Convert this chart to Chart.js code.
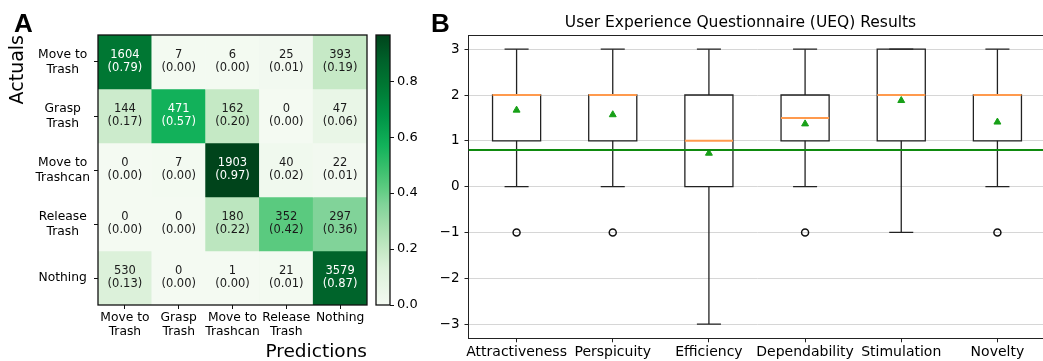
<!DOCTYPE html>
<html><head><meta charset="utf-8">
<script src="https://cdn.jsdelivr.net/npm/chart.js@4.4.1/dist/chart.umd.min.js"></script>
<style>
html,body{margin:0;padding:0;background:#fff;overflow:hidden;}
#wrap{position:relative;width:1043px;height:361px;overflow:hidden;background:#fff;}
canvas{position:absolute;top:0;}
.panel{position:absolute;top:10px;font:bold 26px 'Liberation Sans',Arial,sans-serif;line-height:26px;color:#000;z-index:3;}
</style></head><body>
<div id="wrap">
<canvas id="cm" width="372" height="361" style="left:0"></canvas>
<canvas id="cb" width="70" height="361" style="left:360px"></canvas>
<canvas id="box" width="621" height="361" style="left:430px"></canvas>
<div class="panel" style="left:14px">A</div>
<div class="panel" style="left:431px">B</div>
</div>
<script>
// ---------- Panel A data: confusion matrix ----------
const classLabels = ['Move to Trash', 'Grasp Trash', 'Move to Trashcan', 'Release Trash', 'Nothing'];
const confusionCounts = [
  [1604, 7, 6, 25, 393],
  [144, 471, 162, 0, 47],
  [0, 7, 1903, 40, 22],
  [0, 0, 180, 352, 297],
  [530, 0, 1, 21, 3579]
];
const colorbarTicks = [0, 0.2, 0.4, 0.6, 0.8];

// ---------- Panel B data: UEQ box plot ----------
const ueqTitle = 'User Experience Questionnaire (UEQ) Results';
const ueqCategories = ['Attractiveness', 'Perspicuity', 'Efficiency', 'Dependability', 'Stimulation', 'Novelty'];
const ueqWhiskerLow = [0, 0, -3, 0, -1, 0];
const ueqQ1 = [1, 1, 0, 1, 1, 1];
const ueqMedian = [2, 2, 1, 1.5, 2, 2];
const ueqQ3 = [2, 2, 2, 2, 3, 2];
const ueqWhiskerHigh = [3, 3, 3, 3, 3, 3];
const ueqMean = [1.67, 1.57, 0.73, 1.37, 1.88, 1.41];
const ueqOutliers = [[-1], [-1], [], [-1], [], [-1]];
const ueqYTicks = [-3, -2, -1, 0, 1, 2, 3];
const ueqBenchmark = 0.8;

Chart.defaults.font.family = "'DejaVu Sans', sans-serif";
Chart.defaults.color = '#000';

// ---------- helpers ----------
const nRows = classLabels.length;
const rowSums = confusionCounts.map(r => r.reduce((a, b) => a + b, 0));
const normalized = confusionCounts.map((r, i) => r.map(v => v / rowSums[i]));
const cbMax = Math.max(...normalized.flat());

const cmapStops = [
  [0.00, [244, 250, 242]], [0.135, [220, 241, 218]], [0.20, [198, 233, 198]],
  [0.30, [160, 220, 170]], [0.375, [127, 211, 152]], [0.435, [92, 203, 128]],
  [0.50, [60, 192, 110]], [0.59, [18, 178, 90]], [0.70, [0, 148, 70]],
  [0.82, [0, 118, 50]], [0.90, [0, 99, 43]], [1.00, [0, 68, 27]]
];
function cmap(t) {
  t = Math.max(0, Math.min(1, t));
  for (let k = 1; k < cmapStops.length; k++) {
    const [t1, c1] = cmapStops[k];
    if (t <= t1) {
      const [t0, c0] = cmapStops[k - 1];
      const f = (t - t0) / (t1 - t0);
      const c = c0.map((v, j) => Math.round(v + (c1[j] - v) * f));
      return `rgb(${c[0]},${c[1]},${c[2]})`;
    }
  }
  const c = cmapStops[cmapStops.length - 1][1];
  return `rgb(${c[0]},${c[1]},${c[2]})`;
}
function splitLabel(s) {
  const k = s.lastIndexOf(' ');
  return k < 0 ? s : [s.slice(0, k), s.slice(k + 1)];
}

const frame = {
  id: 'frame',
  afterDatasetsDraw(chart) {
    const a = chart.chartArea, c = chart.ctx;
    c.save(); c.strokeStyle = '#111'; c.lineWidth = 1.3;
    c.strokeRect(a.left, a.top, a.right - a.left, a.bottom - a.top);
    c.restore();
  }
};
const cellText = {
  id: 'cellText',
  afterDatasetsDraw(chart) {
    const c = chart.ctx;
    c.save();
    c.font = "11.5px 'DejaVu Sans'"; c.textAlign = 'center'; c.textBaseline = 'middle';
    chart.data.datasets.forEach((ds, i) => {
      chart.getDatasetMeta(i).data.forEach((el, j) => {
        const cx = el.x, cy = (el.y + el.base) / 2;
        const r = normalized[i][j];
        c.fillStyle = r > 0.5 ? '#ffffff' : '#1a1a1a';
        c.fillText(String(confusionCounts[i][j]), cx, cy - 6.5);
        c.fillText('(' + r.toFixed(2) + ')', cx, cy + 6.5);
      });
    });
    c.restore();
  }
};

// ---------- Panel A: heatmap ----------
new Chart(document.getElementById('cm'), {
  type: 'bar',
  data: {
    labels: classLabels,
    datasets: confusionCounts.map((row, i) => ({
      data: row.map(() => [nRows - 1 - i, nRows - i]),
      backgroundColor: normalized[i].map(v => cmap(v / cbMax)),
      borderWidth: 0, barPercentage: 1, categoryPercentage: 1, grouped: false
    }))
  },
  options: {
    responsive: false, animation: false, events: [],
    layout: { padding: { top: 35, right: 5, left: 0, bottom: 0 } },
    plugins: { legend: { display: false }, tooltip: { enabled: false } },
    scales: {
      x: {
        type: 'category', offset: true,
        grid: { display: true, drawOnChartArea: false, drawTicks: true, tickLength: 4, tickColor: '#111', offset: false },
        border: { display: false },
        ticks: { font: { size: 12.3 }, color: '#000', padding: 1, maxRotation: 0, autoSkip: false,
                 callback: (v, i) => splitLabel(classLabels[i]) },
        title: { display: true, text: 'Predictions', align: 'end', color: '#000',
                 font: { size: 18.5, lineHeight: 1 }, padding: { top: 0, bottom: 0 } },
        afterFit: s => { s.height = 56; }
      },
      y: {
        type: 'linear', min: 0, max: nRows,
        afterBuildTicks: s => { s.ticks = classLabels.map((_, i) => ({ value: nRows - 0.5 - i })); },
        grid: { display: true, drawOnChartArea: false, drawTicks: true, tickLength: 4, tickColor: '#111' },
        border: { display: false },
        ticks: { font: { size: 12.3 }, color: '#000', padding: 4, crossAlign: 'center', autoSkip: false,
                 callback: v => splitLabel(classLabels[Math.round(nRows - 0.5 - v)]) },
        title: { display: true, text: 'Actuals', align: 'end', color: '#000',
                 font: { size: 19, lineHeight: 1 }, padding: { top: 9, bottom: 0 } },
        afterFit: s => { s.width = 98; }
      }
    }
  },
  plugins: [cellText, frame]
});

// ---------- Panel A: colorbar ----------
new Chart(document.getElementById('cb'), {
  type: 'bar',
  data: {
    labels: [''],
    datasets: [{
      data: [[0, cbMax]],
      backgroundColor: (ctx) => {
        const ch = ctx.chart;
        if (!ch.chartArea) return 'rgba(0,0,0,0)';
        const ys = ch.scales.y;
        const g = ch.ctx.createLinearGradient(0, ys.getPixelForValue(0), 0, ys.getPixelForValue(cbMax));
        cmapStops.forEach(([t, c]) => g.addColorStop(t, `rgb(${c[0]},${c[1]},${c[2]})`));
        return g;
      },
      borderWidth: 0, barPercentage: 1, categoryPercentage: 1
    }]
  },
  options: {
    responsive: false, animation: false, events: [],
    layout: { padding: { top: 35, bottom: 56, left: 16, right: 0 } },
    plugins: { legend: { display: false }, tooltip: { enabled: false } },
    scales: {
      x: { display: false },
      y: {
        position: 'right', min: 0, max: cbMax,
        afterBuildTicks: s => { s.ticks = colorbarTicks.map(v => ({ value: v })); },
        grid: { display: true, drawOnChartArea: false, drawTicks: true, tickLength: 4, tickColor: '#111' },
        border: { display: false },
        ticks: { font: { size: 13 }, color: '#000', padding: 3, callback: v => v.toFixed(1) },
        afterFit: s => { s.width = 40; }
      }
    }
  },
  plugins: [frame]
});

// ---------- Panel B: box plot ----------
const BOX_HALF = 0.25, CAP_HALF = 0.125;
const boxPts = [], whiskerPts = [], capPts = [], medianPts = [], meanPts = [], outlierPts = [];
ueqCategories.forEach((_, i) => {
  const c = i + 1;
  boxPts.push({ x: c - BOX_HALF, y: ueqQ1[i] }, { x: c + BOX_HALF, y: ueqQ1[i] },
              { x: c + BOX_HALF, y: ueqQ3[i] }, { x: c - BOX_HALF, y: ueqQ3[i] },
              { x: c - BOX_HALF, y: ueqQ1[i] }, { x: c, y: null });
  whiskerPts.push({ x: c, y: ueqQ3[i] }, { x: c, y: ueqWhiskerHigh[i] }, { x: c, y: null },
                  { x: c, y: ueqWhiskerLow[i] }, { x: c, y: ueqQ1[i] }, { x: c, y: null });
  capPts.push({ x: c - CAP_HALF, y: ueqWhiskerHigh[i] }, { x: c + CAP_HALF, y: ueqWhiskerHigh[i] }, { x: c, y: null },
              { x: c - CAP_HALF, y: ueqWhiskerLow[i] }, { x: c + CAP_HALF, y: ueqWhiskerLow[i] }, { x: c, y: null });
  medianPts.push({ x: c - BOX_HALF, y: ueqMedian[i] }, { x: c + BOX_HALF, y: ueqMedian[i] }, { x: c, y: null });
  meanPts.push({ x: c, y: ueqMean[i] });
  ueqOutliers[i].forEach(v => outlierPts.push({ x: c, y: v }));
});
const X_MIN = 0.5, X_MAX = ueqCategories.length + 0.5;
const seg = { pointRadius: 0, xAxisID: 'x', yAxisID: 'y', fill: false, tension: 0, spanGaps: false };

new Chart(document.getElementById('box'), {
  type: 'line',
  data: {
    datasets: [
      { ...seg, label: 'benchmark', data: [{ x: X_MIN, y: ueqBenchmark }, { x: X_MAX, y: ueqBenchmark }],
        borderColor: '#0f8a0f', borderWidth: 2, order: 0 },
      { ...seg, label: 'mean', data: meanPts, showLine: false, pointStyle: 'triangle', pointRadius: 4,
        pointBackgroundColor: '#17a017', pointBorderColor: '#17a017', pointBorderWidth: 1, order: 1 },
      { ...seg, label: 'outliers', data: outlierPts, showLine: false, pointStyle: 'circle', pointRadius: 3.5,
        pointBackgroundColor: 'rgba(0,0,0,0)', pointBorderColor: '#111', pointBorderWidth: 1.5, order: 2 },
      { ...seg, label: 'median', data: medianPts, borderColor: '#ff9a4d', borderWidth: 2, order: 3 },
      { ...seg, label: 'caps', data: capPts, borderColor: '#222', borderWidth: 1.3, order: 4 },
      { ...seg, label: 'whiskers', data: whiskerPts, borderColor: '#222', borderWidth: 1.3, order: 5 },
      { ...seg, label: 'boxes', data: boxPts, borderColor: '#222', borderWidth: 1.3,
        borderJoinStyle: 'miter', borderCapStyle: 'square', order: 6 }
    ]
  },
  options: {
    responsive: false, animation: false, events: [],
    layout: { padding: 0 },
    plugins: {
      legend: { display: false }, tooltip: { enabled: false },
      title: { display: true, text: ueqTitle, color: '#000', font: { size: 15.5, weight: 'normal', lineHeight: 1.2 },
               padding: { top: 13.7, bottom: 2.7 } }
    },
    scales: {
      x: {
        type: 'linear', position: 'bottom', min: X_MIN, max: X_MAX,
        afterBuildTicks: s => { s.ticks = ueqCategories.map((_, i) => ({ value: i + 1 })); },
        grid: { display: true, drawOnChartArea: false, drawTicks: true, tickLength: 4, tickColor: '#222' },
        border: { display: true, color: '#222', width: 1 },
        ticks: { font: { size: 14 }, color: '#000', padding: 2, maxRotation: 0, autoSkip: false,
                 callback: v => ueqCategories[Math.round(v) - 1] },
        afterFit: s => { s.height = 22.7; }
      },
      xTop: {
        type: 'linear', axis: 'x', position: 'top', min: X_MIN, max: X_MAX,
        grid: { display: true, drawOnChartArea: false, drawTicks: false },
        border: { display: true, color: '#222', width: 1 },
        ticks: { display: false },
        afterFit: s => { s.height = 0; }
      },
      y: {
        type: 'linear', min: -3.31, max: 3.31,
        afterBuildTicks: s => { s.ticks = ueqYTicks.map(v => ({ value: v })); },
        grid: { display: true, color: '#d6d6d6', lineWidth: 1, drawTicks: true, tickLength: 4, tickColor: '#222' },
        border: { display: true, color: '#222', width: 1 },
        ticks: { font: { size: 13.5 }, color: '#000', padding: 5,
                 callback: v => (v < 0 ? '\u2212' + Math.abs(v) : String(v)) },
        afterFit: s => { s.width = 38.5; }
      }
    }
  }
});
</script>
</body></html>
